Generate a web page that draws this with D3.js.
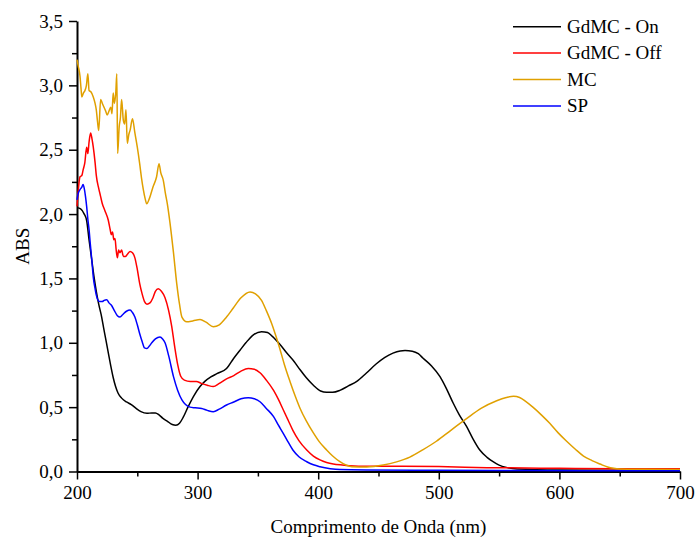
<!DOCTYPE html>
<html>
<head>
<meta charset="utf-8">
<script src="https://d3js.org/d3.v7.min.js"></script>
<style>
  body { margin: 0; background: #fff; }
</style>
</head>
<body>
<svg id="chart" width="698" height="537"></svg>
<script>
const MARGIN = {top: 21, right: 18, bottom: 65.5, left: 77}
const WIDTH = 698
const HEIGHT = 537
const SERIF = '"Liberation Serif", "Times New Roman", Tinos, "DejaVu Serif", serif'
const FONT_SIZE = 19

const xTicks = [200, 300, 400, 500, 600, 700]
const yTicks = [0, 0.5, 1, 1.5, 2, 2.5, 3, 3.5]
const seriesNames = ['GdMC - On', 'GdMC - Off', 'MC', 'SP']
const seriesColors = ['#000000', '#ff0000', '#e0a000', '#0000ff']

// [nm, abs] pairs
const gdmcOn = [
  [200, 2.05], [203, 2.04], [206, 2.0], [208, 1.95], [210, 1.80], [212, 1.66], [214, 1.52],
  [216, 1.40], [218, 1.30], [220, 1.22], [222, 1.12], [224, 1.02], [226, 0.92], [228, 0.82],
  [230, 0.73], [232, 0.66], [234, 0.61], [237, 0.57], [241, 0.54], [245, 0.52], [249, 0.49],
  [253, 0.465], [258, 0.452], [262, 0.455], [265, 0.455], [268, 0.44], [271, 0.415], [275, 0.39],
  [279, 0.365], [282, 0.36], [285, 0.375], [288, 0.42], [292, 0.50], [297, 0.59], [302, 0.66],
  [306, 0.70], [311, 0.735], [316, 0.76], [324, 0.80], [330, 0.88], [335, 0.94], [340, 1.0],
  [346, 1.06], [353, 1.086], [358, 1.08], [362, 1.05], [368, 0.99], [374, 0.92], [380, 0.855],
  [385, 0.79], [390, 0.73], [396, 0.67], [402, 0.625], [407, 0.615], [412, 0.615], [418, 0.63],
  [425, 0.665], [432, 0.70], [440, 0.765], [448, 0.835], [455, 0.885], [462, 0.92], [468, 0.937],
  [472, 0.94], [478, 0.935], [483, 0.915], [487, 0.88], [494, 0.82], [501, 0.737], [506, 0.65],
  [512, 0.53], [517, 0.44], [523, 0.35], [528, 0.26], [534, 0.167], [540, 0.11], [545, 0.076],
  [550, 0.05], [556, 0.032], [565, 0.02], [600, 0.012], [650, 0.01], [700, 0.01]
]

const gdmcOff = [
  [200, 2.06], [201, 2.18], [202.5, 2.29], [204, 2.30], [205, 2.34], [206.5, 2.40], [208, 2.52],
  [209, 2.47], [210, 2.56], [211.3, 2.63], [212.5, 2.58], [213.5, 2.52], [215, 2.40], [216, 2.30],
  [218, 2.20], [219.5, 2.14], [221, 2.08], [223, 2.03], [226, 1.95], [227.5, 1.88], [228.5, 1.84],
  [229.5, 1.86], [230.5, 1.80], [231.5, 1.81], [232.5, 1.72], [233.5, 1.66], [234.5, 1.72],
  [235.6, 1.70], [237, 1.72], [238.5, 1.67], [240, 1.67], [242, 1.69], [244, 1.71], [246, 1.70],
  [248, 1.66], [250, 1.57], [252, 1.46], [254, 1.38], [256, 1.32], [258, 1.30], [260.5, 1.31],
  [263, 1.35], [265, 1.40], [267.4, 1.42], [270, 1.40], [273, 1.35], [276, 1.25], [278.5, 1.13],
  [281, 0.97], [283.5, 0.83], [286, 0.74], [289, 0.71], [294, 0.70], [299, 0.70], [303, 0.685],
  [308, 0.67], [313, 0.66], [318, 0.685], [324, 0.72], [330, 0.745], [336, 0.78], [342, 0.80],
  [347, 0.795], [352, 0.765], [357, 0.71], [363, 0.63], [367, 0.56], [371, 0.48], [375, 0.40],
  [379, 0.32], [384, 0.24], [390.5, 0.167], [396, 0.12], [401.5, 0.09], [407, 0.07], [412.5, 0.058],
  [420, 0.05], [426, 0.045], [441, 0.04], [470, 0.04], [500, 0.038], [540, 0.03], [600, 0.025],
  [650, 0.022], [700, 0.022]
]

const mc = [
  [200, 3.20], [201, 3.15], [202.5, 3.07], [203.3, 2.98], [204, 2.91], [205.3, 2.94], [206.6, 2.96],
  [207.8, 3.00], [209, 3.09], [210, 2.96], [211.5, 2.95], [213.5, 2.91], [215, 2.86], [216, 2.81],
  [217, 2.72], [218, 2.65], [219.6, 2.89], [221, 2.86], [222.4, 2.83], [223.8, 2.80], [225, 2.77],
  [226.5, 2.80], [228, 2.83], [229, 2.78], [230, 2.94], [231, 2.86], [232.2, 2.95], [233, 3.09],
  [233.7, 2.47], [235, 2.68], [236, 2.75], [237, 2.89], [238.4, 2.73], [239.5, 2.70], [240.6, 2.81],
  [241.7, 2.55], [243, 2.62], [244, 2.65], [246, 2.74], [248, 2.63], [250, 2.52], [252, 2.39],
  [253.5, 2.28], [255, 2.19], [256.5, 2.12], [257.8, 2.08], [260, 2.12], [263, 2.21], [266, 2.29],
  [268, 2.39], [269.5, 2.32], [271.6, 2.26], [273.3, 2.16], [274.9, 2.08], [277, 1.94], [280, 1.70],
  [282.7, 1.46], [285, 1.30], [287, 1.20], [291, 1.164], [296, 1.17], [302, 1.18], [307, 1.16],
  [313, 1.125], [318, 1.14], [324, 1.20], [329.6, 1.27], [336, 1.35], [343.5, 1.395], [348, 1.38],
  [353, 1.33], [357, 1.25], [361.4, 1.15], [365, 1.05], [368, 0.96], [372, 0.83], [376.6, 0.70],
  [381, 0.585], [385, 0.49], [390, 0.395], [396, 0.30], [401, 0.23], [407, 0.167], [412, 0.12],
  [418, 0.076], [423, 0.05], [428, 0.037], [440, 0.035], [454, 0.05], [465, 0.075], [476, 0.112],
  [487, 0.17], [498, 0.235], [510, 0.32], [523, 0.41], [535, 0.49], [548, 0.55], [556, 0.575],
  [562, 0.585], [567, 0.575], [572, 0.545], [578, 0.50], [585, 0.44], [592, 0.374], [599, 0.30],
  [606, 0.235], [613, 0.175], [620, 0.12], [627, 0.085], [633.7, 0.058], [640, 0.035], [645, 0.025],
  [650, 0.02], [670, 0.017], [700, 0.015]
]

const sp = [
  [200, 2.11], [201, 2.16], [202.5, 2.19], [204, 2.21], [205, 2.23], [206, 2.20], [207, 2.14],
  [208, 2.06], [209, 1.96], [210, 1.88], [211, 1.77], [212.3, 1.64], [213.5, 1.51], [215, 1.42],
  [216, 1.37], [217.5, 1.33], [219, 1.32], [221, 1.32], [222.5, 1.33], [224.6, 1.335], [226.5, 1.31],
  [228.7, 1.29], [231, 1.25], [233.5, 1.21], [235.6, 1.20], [238, 1.22], [241, 1.245], [244, 1.255],
  [246, 1.235], [248, 1.20], [250, 1.14], [252, 1.07], [254, 1.01], [256, 0.96], [258, 0.955],
  [260, 0.975], [262, 1.0], [265, 1.03], [268.8, 1.045], [271, 1.03], [273, 1.0], [276, 0.90],
  [280, 0.737], [283.5, 0.63], [287, 0.556], [290, 0.52], [293.7, 0.50], [298, 0.495], [303.4, 0.49],
  [308, 0.475], [313, 0.465], [318, 0.485], [324, 0.517], [330, 0.54], [336, 0.565], [342, 0.573],
  [347, 0.565], [352, 0.54], [357, 0.49], [363, 0.426], [367, 0.36], [371, 0.297], [375, 0.23],
  [379, 0.167], [384, 0.115], [390.5, 0.076], [396, 0.052], [401.5, 0.037], [410, 0.022],
  [418, 0.015], [440, 0.012], [500, 0.01], [560, 0.008], [620, 0.006], [700, 0.005]
]

const allSeries = [gdmcOn, gdmcOff, mc, sp]

let svg = d3.select('#chart')

let x = d3.scaleLinear()
  .domain([200, 700])
  .range([MARGIN.left, WIDTH - MARGIN.right])

let y = d3.scaleLinear()
  .domain([0, 3.5])
  .range([HEIGHT - MARGIN.bottom, MARGIN.top])

let fmt = d => d3.format('.1f')(d).replace('.', ',')

// minor ticks first, so the major ones draw on top
let xMinor = svg.append('g')
  .attr('transform', 'translate(0,' + (HEIGHT - MARGIN.bottom) + ')')
  .call(d3.axisBottom(x).tickValues(d3.range(250, 700, 100)).tickSize(5).tickFormat(''))
xMinor.select('.domain').remove()
xMinor.selectAll('line').attr('stroke-width', 1.5)

let yMinor = svg.append('g')
  .attr('transform', 'translate(' + MARGIN.left + ',0)')
  .call(d3.axisLeft(y).tickValues(d3.range(0.25, 3.5, 0.5)).tickSize(5).tickFormat(''))
yMinor.select('.domain').remove()
yMinor.selectAll('line').attr('stroke-width', 1.5)

let xAxis = svg.append('g')
  .attr('transform', 'translate(0,' + (HEIGHT - MARGIN.bottom) + ')')
  .call(d3.axisBottom(x).tickValues(xTicks).tickSize(8).tickSizeOuter(0).tickPadding(6))
  .attr('font-family', SERIF)
  .attr('font-size', FONT_SIZE)
xAxis.select('.domain').attr('stroke-width', 2)
xAxis.selectAll('.tick line').attr('stroke-width', 1.5)
xAxis.selectAll('text').attr('fill', '#000')

let yAxis = svg.append('g')
  .attr('transform', 'translate(' + MARGIN.left + ',0)')
  .call(d3.axisLeft(y).tickValues(yTicks).tickFormat(fmt).tickSize(8).tickSizeOuter(0).tickPadding(6))
  .attr('font-family', SERIF)
  .attr('font-size', FONT_SIZE)
yAxis.select('.domain').attr('stroke-width', 2)
yAxis.selectAll('.tick line').attr('stroke-width', 1.5)
yAxis.selectAll('text').attr('fill', '#000')

// axis titles
svg.append('text')
  .attr('x', (MARGIN.left + WIDTH - MARGIN.right) / 2)
  .attr('y', 533)
  .attr('text-anchor', 'middle')
  .attr('font-family', SERIF)
  .attr('font-size', FONT_SIZE)
  .text('Comprimento de Onda (nm)')

svg.append('text')
  .attr('transform', 'translate(29,' + ((MARGIN.top + HEIGHT - MARGIN.bottom) / 2) + ') rotate(-90)')
  .attr('text-anchor', 'middle')
  .attr('font-family', SERIF)
  .attr('font-size', FONT_SIZE)
  .text('ABS')

// spectra
let line = d3.line()
  .x(d => x(d[0]))
  .y(d => y(d[1]))
  .curve(d3.curveMonotoneX)

svg.append('g')
  .selectAll('path')
  .data(allSeries)
  .enter()
  .append('path')
  .attr('d', line)
  .attr('fill', 'none')
  .attr('stroke', (d, i) => seriesColors[i])
  .attr('stroke-width', 1.5)

// legend
let legend = svg.append('g')
  .selectAll('g')
  .data(seriesNames)
  .enter()
  .append('g')
  .attr('transform', (d, i) => 'translate(513,' + (26.7 + i * 26.4) + ')')

legend.append('line')
  .attr('x1', 0)
  .attr('x2', 48)
  .attr('stroke', (d, i) => seriesColors[i])
  .attr('stroke-width', 1.5)

legend.append('text')
  .attr('x', 54)
  .attr('dy', '0.33em')
  .attr('font-family', SERIF)
  .attr('font-size', FONT_SIZE)
  .text(d => d)
</script>
</body>
</html>
